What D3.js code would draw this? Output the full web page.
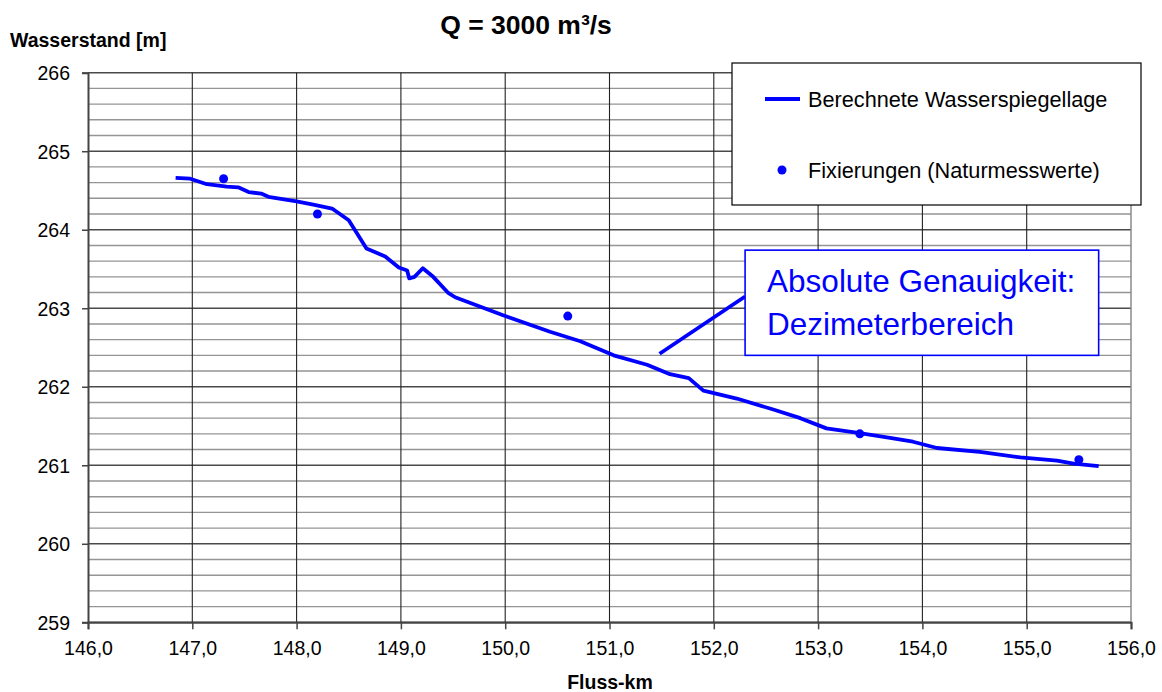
<!DOCTYPE html>
<html>
<head>
<meta charset="utf-8">
<script src="https://cdn.jsdelivr.net/npm/d3@7"></script>
<style>
  body { margin: 0; background: #fff; }
  svg { display: block; font-family: "Liberation Sans", Arial, sans-serif; }
</style>
</head>
<body>
<svg id="chart" width="1162" height="692"></svg>
<script>
// ---- Data ----
const titleText = "Q = 3000 m³/s";
const yAxisTitle = "Wasserstand [m]";
const xAxisTitle = "Fluss-km";
const seriesNames = ["Berechnete Wasserspiegellage", "Fixierungen (Naturmesswerte)"];
const annotationLines = ["Absolute Genauigkeit:", "Dezimeterbereich"];

const xTicks = [146, 147, 148, 149, 150, 151, 152, 153, 154, 155, 156];
const yTicks = [259, 260, 261, 262, 263, 264, 265, 266];
const yMinorTicks = [259.2, 259.4, 259.6, 259.8, 260.2, 260.4, 260.6, 260.8, 261.2, 261.4, 261.6, 261.8,
  262.2, 262.4, 262.6, 262.8, 263.2, 263.4, 263.6, 263.8, 264.2, 264.4, 264.6, 264.8, 265.2, 265.4, 265.6, 265.8];

// Berechnete Wasserspiegellage (km, m)
const lineKm = [146.84, 146.98, 147.14, 147.33, 147.44, 147.54, 147.66, 147.73, 148.0, 148.16, 148.34,
  148.50, 148.67, 148.85, 148.98, 149.06, 149.08, 149.13, 149.21, 149.31, 149.45, 149.52, 149.98,
  150.43, 150.72, 151.04, 151.36, 151.58, 151.76, 151.90, 152.22, 152.57, 152.83, 153.08, 153.40,
  153.69, 153.91, 154.14, 154.55, 154.94, 155.29, 155.45, 155.69];
const lineWL = [264.66, 264.65, 264.58, 264.55, 264.54, 264.48, 264.46, 264.42, 264.36, 264.32, 264.27,
  264.12, 263.76, 263.66, 263.52, 263.48, 263.38, 263.40, 263.51, 263.40, 263.20, 263.14, 262.91,
  262.70, 262.58, 262.40, 262.28, 262.16, 262.11, 261.95, 261.85, 261.71, 261.60, 261.47, 261.41,
  261.35, 261.30, 261.22, 261.17, 261.10, 261.06, 261.02, 260.99];

// Fixierungen (Naturmesswerte)
const fixKm = [147.30, 148.20, 150.60, 153.40, 155.50];
const fixWL = [264.65, 264.20, 262.90, 261.40, 261.07];

// Annotation (in data units)
const annoBox = { km0: 152.30, km1: 155.69, wl0: 263.74, wl1: 262.40 };
const annoLeader = { km0: 151.48, wl0: 262.42, km1: 152.30, wl1: 263.15 };

// ---- Chart ----
const svg = d3.select("#chart");
const mLeft = 88, mRight = 1131, mTop = 72.7, mBottom = 622.3;
const blue = "#0000ff";

const x = d3.scaleLinear().domain([146, 156]).range([mLeft, mRight]);
const y = d3.scaleLinear().domain([259, 266]).range([mBottom, mTop]);

const locale = d3.formatLocale({ decimal: ",", thousands: ".", grouping: [3], currency: ["", "€"] });
const fmtX = locale.format(".1f");

// minor horizontal grid
svg.append("g").selectAll("line").data(yMinorTicks).join("line")
  .attr("x1", mLeft).attr("x2", mRight)
  .attr("y1", d => y(d)).attr("y2", d => y(d))
  .attr("stroke", "#959595").attr("stroke-width", 1.4);
// major horizontal grid
svg.append("g").selectAll("line").data(yTicks).join("line")
  .attr("x1", mLeft).attr("x2", mRight)
  .attr("y1", d => y(d)).attr("y2", d => y(d))
  .attr("stroke", "#4a4a4a").attr("stroke-width", 1.4);
// vertical grid
svg.append("g").selectAll("line").data(xTicks.slice(1, -1)).join("line")
  .attr("x1", d => x(d)).attr("x2", d => x(d))
  .attr("y1", mTop).attr("y2", mBottom)
  .attr("stroke", "#222").attr("stroke-width", 1.1);
// right border
svg.append("line").attr("x1", mRight).attr("x2", mRight).attr("y1", mTop).attr("y2", mBottom)
  .attr("stroke", "#8a8a8a").attr("stroke-width", 1.5);

// axes
const yAxis = svg.append("g").attr("transform", `translate(${mLeft},0)`)
  .call(d3.axisLeft(y).tickValues(yTicks).tickFormat(d3.format("d")).tickSize(6).tickPadding(12));
const xAxis = svg.append("g").attr("transform", `translate(0,${mBottom})`)
  .call(d3.axisBottom(x).tickValues(xTicks).tickFormat(fmtX).tickSize(7).tickPadding(8));
[yAxis, xAxis].forEach(g => {
  g.select(".domain").attr("stroke", "#444").attr("stroke-width", 2);
  g.selectAll(".tick line").attr("stroke", "#444").attr("stroke-width", 1.5);
  g.selectAll(".tick text").attr("font-size", 19.5).attr("fill", "#000")
    .attr("font-family", "'Liberation Sans', Arial, sans-serif");
});
yAxis.selectAll(".tick text").attr("dy", "0.36em");
xAxis.selectAll(".tick text").attr("dy", "0.9em");

// line series
const lineData = lineKm.map((k, i) => [k, lineWL[i]]);
svg.append("path").datum(lineData)
  .attr("fill", "none").attr("stroke", blue).attr("stroke-width", 3.8)
  .attr("stroke-linejoin", "round")
  .attr("d", d3.line().x(d => x(d[0])).y(d => y(d[1])));

// points
svg.append("g").selectAll("circle").data(fixKm.map((k, i) => [k, fixWL[i]])).join("circle")
  .attr("cx", d => x(d[0])).attr("cy", d => y(d[1])).attr("r", 4.5).attr("fill", blue);

// annotation leader + box
svg.append("line")
  .attr("x1", x(annoLeader.km0)).attr("y1", y(annoLeader.wl0))
  .attr("x2", x(annoLeader.km1)).attr("y2", y(annoLeader.wl1))
  .attr("stroke", blue).attr("stroke-width", 3.8);
svg.append("rect")
  .attr("x", x(annoBox.km0)).attr("y", y(annoBox.wl0))
  .attr("width", x(annoBox.km1) - x(annoBox.km0)).attr("height", y(annoBox.wl1) - y(annoBox.wl0))
  .attr("fill", "#fff").attr("stroke", blue).attr("stroke-width", 1.6);
svg.append("g").selectAll("text").data(annotationLines).join("text")
  .attr("x", x(annoBox.km0) + 22).attr("y", (d, i) => y(annoBox.wl0) + 42 + i * 43.3)
  .attr("font-size", 31.5).attr("fill", blue).text(d => d);

// legend
const lg = svg.append("g");
lg.append("rect").attr("x", 732).attr("y", 63).attr("width", 409).attr("height", 142)
  .attr("fill", "#fff").attr("stroke", "#000").attr("stroke-width", 1.2);
lg.append("line").attr("x1", 765).attr("x2", 800).attr("y1", 99).attr("y2", 99)
  .attr("stroke", blue).attr("stroke-width", 3.8);
lg.append("circle").attr("cx", 782).attr("cy", 170).attr("r", 4.5).attr("fill", blue);
lg.selectAll("text").data(seriesNames).join("text")
  .attr("x", 808).attr("y", (d, i) => i === 0 ? 107 : 178)
  .attr("font-size", 21.7).attr("fill", "#000").text(d => d);

// titles
svg.append("text").attr("x", 526).attr("y", 34).attr("text-anchor", "middle")
  .attr("font-size", 26.5).attr("font-weight", "bold").text(titleText);
svg.append("text").attr("x", 10).attr("y", 47)
  .attr("font-size", 19.5).attr("font-weight", "bold").text(yAxisTitle);
svg.append("text").attr("x", 610).attr("y", 689).attr("text-anchor", "middle")
  .attr("font-size", 19.5).attr("font-weight", "bold").text(xAxisTitle);
</script>
</body>
</html>
